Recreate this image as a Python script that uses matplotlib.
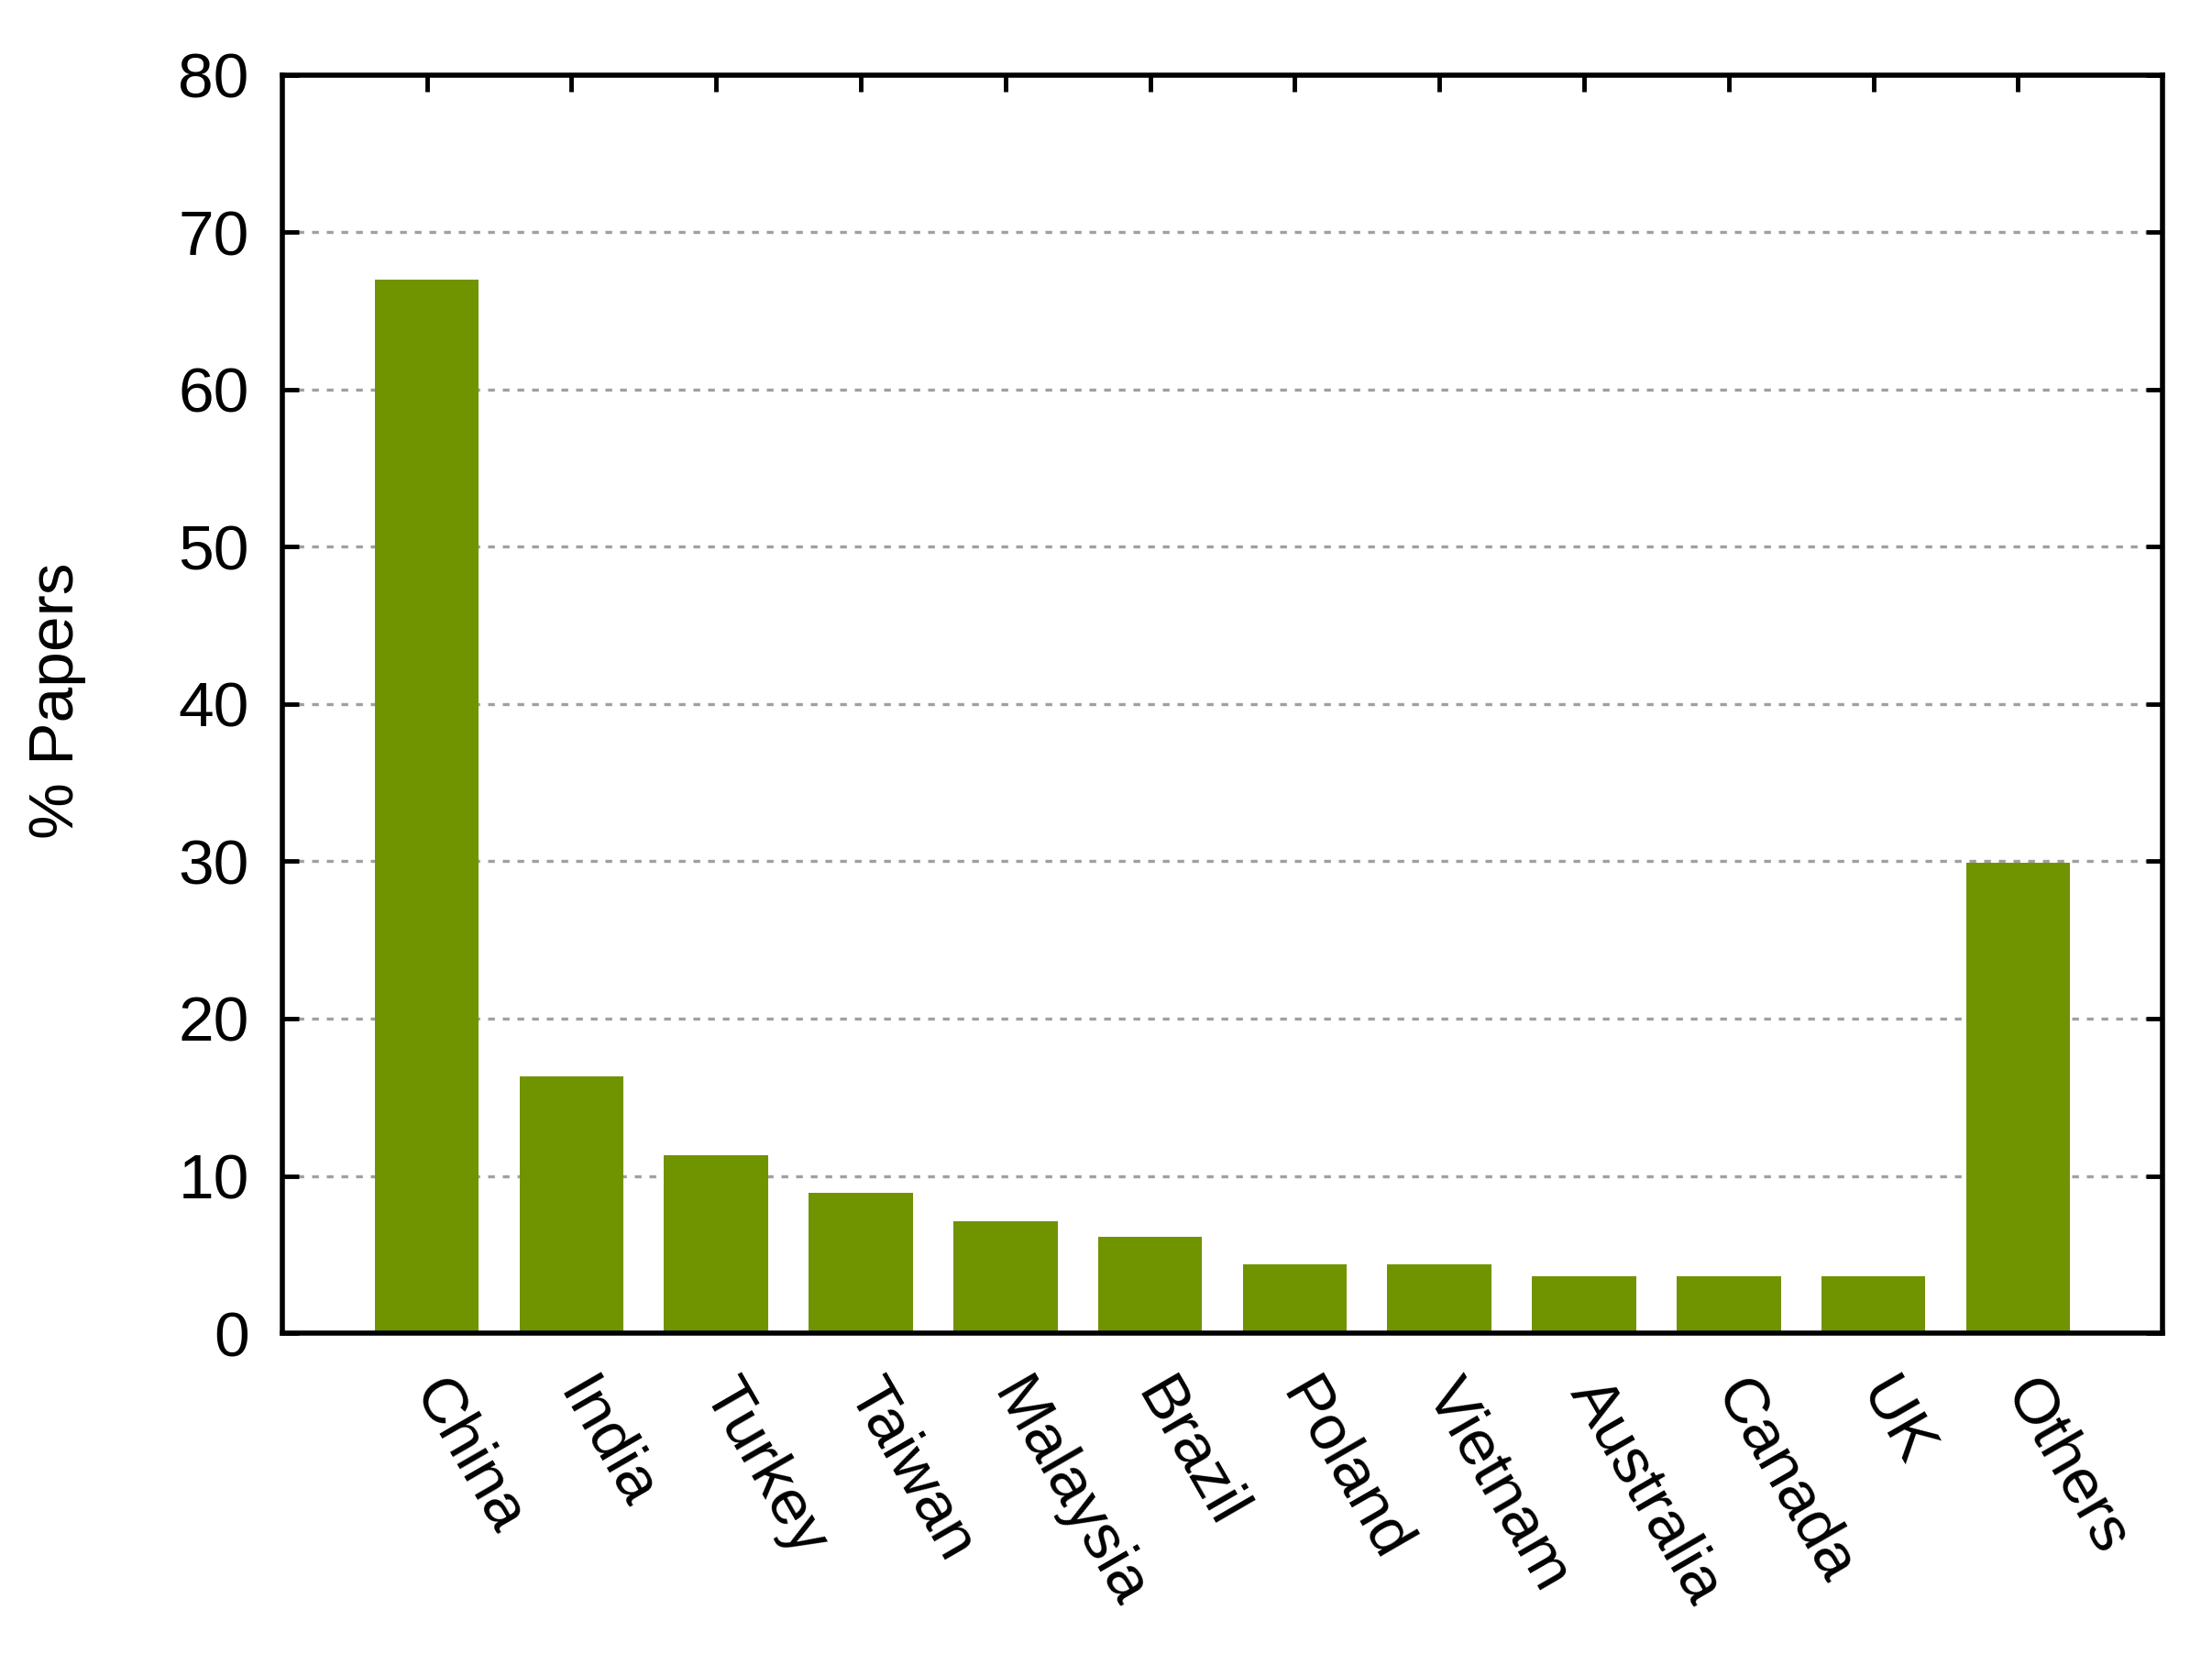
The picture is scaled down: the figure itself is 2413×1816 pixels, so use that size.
import matplotlib.pyplot as plt

countries = ['China', 'India', 'Turkey', 'Taiwan', 'Malaysia', 'Brazil',
             'Poland', 'Vietnam', 'Australia', 'Canada', 'UK', 'Others']
papers_pct = [67.0, 16.3, 11.3, 8.9, 7.1, 6.1, 4.4, 4.4, 3.6, 3.6, 3.6, 29.9]
y_ticks = [0, 10, 20, 30, 40, 50, 60, 70, 80]

plt.rcParams['font.family'] = ['Liberation Sans', 'DejaVu Sans']

fig = plt.figure(figsize=(24.13, 18.16), dpi=100)
ax = fig.add_axes([0.1276, 0.1993, 0.8501, 0.7557])

x = list(range(len(countries)))
ax.bar(x, papers_pct, width=0.72, color='#709300', zorder=2)

ax.set_xlim(-1.0, 12.0)
ax.set_ylim(0, 80)
ax.set_yticks(y_ticks)
ax.set_yticklabels([str(v) for v in y_ticks])
ax.set_xticks(x)
ax.set_xticklabels(countries, rotation=-60, ha='left', va='center',
                   rotation_mode='anchor')

# dashed grey grid, only inside the frame
for v in y_ticks[1:-1]:
    ax.axhline(v, color='#a0a0a0', lw=2.4, linestyle=(0, (2.2, 2.6)), zorder=1)

for s in ax.spines.values():
    s.set_linewidth(4)

ax.tick_params(axis='y', direction='in', length=13, width=3.5, right=True,
               labelsize=50, pad=26)
ax.tick_params(axis='x', direction='in', length=13, width=3.5, top=True,
               bottom=False, labelsize=50, pad=40)

fig.text(62 / 2413, 0.579, '% Papers', rotation=90, ha='center', va='center',
         fontsize=50)

fig.savefig('out.png', dpi=100)
